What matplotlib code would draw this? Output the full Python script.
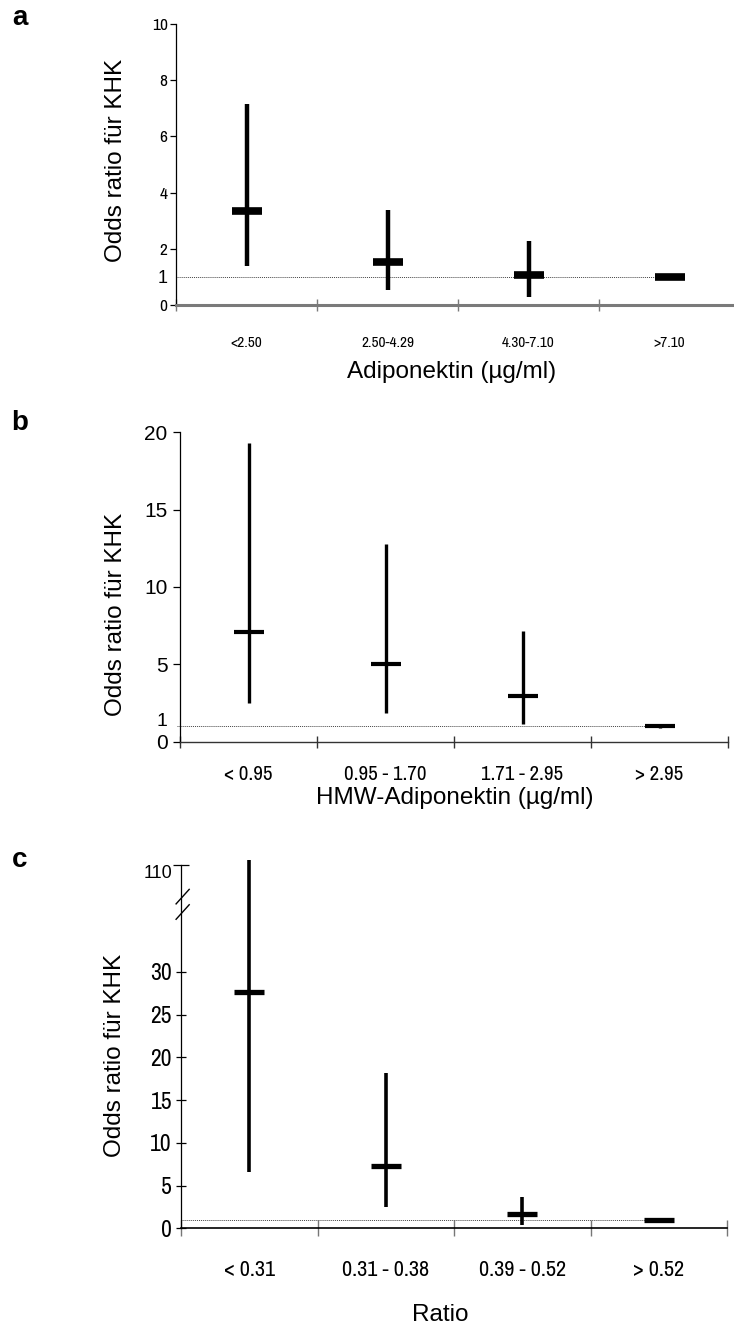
import numpy as np
import matplotlib
matplotlib.use("Agg")
import matplotlib.pyplot as plt
import matplotlib.transforms as mtransforms

# Daten
a_labels = ['<2.50', '2.50-4.29', '4.30-7.10', '>7.10']
a_or = [3.36, 1.53, 1.05, 1.0]
a_lo = [1.40, 0.53, 0.28, 0.89]
a_hi = [7.15, 3.38, 2.29, 1.0]

b_labels = ['< 0.95', '0.95 - 1.70', '1.71 - 2.95', '> 2.95']
b_or = [7.07, 5.0, 2.97, 1.0]
b_lo = [2.52, 1.83, 1.12, 0.88]
b_hi = [19.33, 12.78, 7.18, 1.0]

c_labels = ['< 0.31', '0.31 - 0.38', '0.39 - 0.52', '> 0.52']
c_or = [27.6, 7.25, 1.64, 1.0]
c_lo = [6.6, 2.5, 0.4, 0.65]
c_hi = [116, 18.2, 3.7, 1.0]

# schmale Schrift fuer die Achsenbeschriftungen, sonst Arial-Ersatz
NARROW = ['Liberation Sans Narrow', 'Arial Narrow', 'Archivo Narrow', 'PT Sans Narrow',
          'Roboto Condensed', 'Liberation Sans', 'DejaVu Sans']
SANS = ['Liberation Sans', 'DejaVu Sans']
plt.rcParams['font.family'] = SANS

W, H = 734, 1330
fig = plt.figure(figsize=(W / 100, H / 100), dpi=100)


def achse(x0, x1, y0, y1):
    # Pixelkoordinaten (von oben) -> Figure-Koordinaten
    return fig.add_axes([x0 / W, (H - y0) / H, (x1 - x0) / W, (y0 - y1) / H])


def zeichnen(ax, oratio, lo, hi, lw_v, lw_h, mw):
    x = np.arange(len(oratio)) + 0.5
    ax.vlines(x, lo, hi, colors='black', lw=lw_v, clip_on=False, zorder=3)
    ax.plot(x, oratio, ls='none', marker='_', ms=mw, mew=lw_h, color='black',
            clip_on=False, zorder=4)
    return x


def x_achse(ax, labels, farbe, lw, ticklen, pad, fontsize, family):
    ax.set_xlim(0, len(labels))
    ax.set_xticks(np.arange(len(labels) + 1))
    ax.set_xticklabels([])
    ax.set_xticks(np.arange(len(labels)) + 0.5, minor=True)
    ax.set_xticklabels(labels, minor=True, fontsize=fontsize, family=family)
    ax.tick_params(axis='x', which='major', direction='inout', length=ticklen,
                   color=farbe, width=1)
    ax.tick_params(axis='x', which='minor', length=0, pad=pad)
    ax.spines['bottom'].set_color(farbe)
    ax.spines['bottom'].set_linewidth(lw)
    ax.spines['top'].set_visible(False)
    ax.spines['right'].set_visible(False)
    ax.spines['left'].set_linewidth(0.9)


# ---------------- a ----------------
ax1 = achse(176, 740, 305, 24)
ax1.set_ylim(0, 10)
x1 = zeichnen(ax1, a_or, a_lo, a_hi, 3.2, 5.5, 22)
ax1.plot([0, x1[-1]], [1, 1], ls=(0, (1, 1)), lw=0.7, color='#444444', zorder=2)
x_achse(ax1, a_labels, '#7a7a7a', 2.2, 9, 22, 11, NARROW)
ax1.set_yticks([0, 1, 2, 4, 6, 8, 10])
ax1.set_yticklabels(['0', '1', '2', '4', '6', '8', '10'])
ax1.tick_params(axis='y', direction='out', length=4.5, width=0.9, pad=1.5)
for i, t in enumerate(ax1.get_yticklabels()):
    if i == 1:
        t.set_fontfamily(SANS)
        t.set_fontsize(13)
    else:
        t.set_fontfamily(NARROW)
        t.set_fontsize(12.5)
ax1.yaxis.get_major_ticks()[1].tick1line.set_visible(False)
ax1.set_ylabel('Odds ratio für KHK', fontsize=17.5)
ax1.yaxis.set_label_coords(-0.107, 0.514)
ax1.yaxis.label.set_va('center')
ax1.set_xlabel('Adiponektin (µg/ml)', fontsize=17.5)
ax1.xaxis.set_label_coords(0.489, -0.24)
ax1.xaxis.label.set_va('center')
fig.text(20 / W, 1 - 18 / H, 'a', fontsize=20, fontweight='bold', ha='center', va='center')

# ---------------- b ----------------
ax2 = achse(180, 728, 741.7, 432.3)
ax2.set_ylim(0, 20)
x2 = zeichnen(ax2, b_or, b_lo, b_hi, 2.4, 3.0, 22)
ax2.plot([-0.025, x2[-1]], [1, 1], ls=(0, (1, 1)), lw=0.7, color='#444444',
         zorder=2, clip_on=False)
x_achse(ax2, b_labels, '#333333', 1.0, 9, 17, 15, NARROW)
ax2.set_yticks([0, 1, 5, 10, 15, 20])
ax2.set_yticklabels(['0', '1', '5', '10', '15', '20'], fontsize=15)
ax2.tick_params(axis='y', direction='out', length=5, width=0.9, pad=4)
ax2.yaxis.get_major_ticks()[1].tick1line.set_visible(False)
# die "1" sitzt knapp ueber der "0"
eins = ax2.get_yticklabels()[1]
eins.set_fontsize(14)
eins.set_va('baseline')
ax2.set_ylabel('Odds ratio für KHK', fontsize=17.5)
ax2.yaxis.set_label_coords(-0.116, 0.411)
ax2.yaxis.label.set_va('center')
ax2.set_xlabel('HMW-Adiponektin (µg/ml)', fontsize=17.5)
ax2.xaxis.set_label_coords(0.502, -0.181)
ax2.xaxis.label.set_va('center')
fig.text(20 / W, 1 - 423 / H, 'b', fontsize=20, fontweight='bold', ha='center', va='center')

# ---------------- c (Achse mit Bruch) ----------------
brk, k = 35.0, 0.1


def vor(y):
    y = np.asarray(y, dtype=float)
    return np.where(y <= brk, y, brk + (y - brk) * k)


def rueck(t):
    t = np.asarray(t, dtype=float)
    return np.where(t <= brk, t, brk + (t - brk) / k)


ax3 = achse(181, 727, 1228.3, 865)
ax3.set_yscale('function', functions=(vor, rueck))
ax3.set_ylim(0, 110)
x3 = zeichnen(ax3, c_or, c_lo, c_hi, 2.6, 3.8, 22)
ax3.plot([0, x3[-1]], [1, 1], ls=(0, (1, 1)), lw=0.7, color='#444444', zorder=2)
x_achse(ax3, c_labels, '#000000', 1.2, 11, 23, 16, NARROW)
ax3.tick_params(axis='x', which='major', color='#777777')
ax3.set_yticks([0, 5, 10, 15, 20, 25, 30, 110])
ax3.set_yticklabels(['0', '5', '10', '15', '20', '25', '30', '110'])
ax3.tick_params(axis='y', direction='inout', length=7, width=0.9, pad=3)
for t in ax3.get_yticklabels():
    if t.get_text() == '110':
        t.set_fontfamily(SANS)
        t.set_fontsize(13)
        t.set_va('top')
    else:
        t.set_fontfamily(NARROW)
        t.set_fontsize(17)
ax3.yaxis.get_major_ticks()[-1].tick1line.set_markersize(11)
# Bruchstriche auf der y-Achse
trans = mtransforms.blended_transform_factory(ax3.transAxes, ax3.transData)
for yb in [37.0, 38.8]:
    ax3.plot([-0.009, 0.015], [rueck(yb - 0.85), rueck(yb + 0.85)], color='black',
             lw=1.0, transform=trans, clip_on=False, zorder=5)
ax3.set_ylabel('Odds ratio für KHK', fontsize=17.5)
ax3.yaxis.set_label_coords(-0.12, 0.477)
ax3.yaxis.label.set_va('center')
ax3.set_xlabel('Ratio', fontsize=17.5)
ax3.xaxis.set_label_coords(0.474, -0.239)
ax3.xaxis.label.set_va('center')
fig.text(20 / W, 1 - 860 / H, 'c', fontsize=20, fontweight='bold', ha='center', va='center')

fig.savefig('out.png', dpi=100)
